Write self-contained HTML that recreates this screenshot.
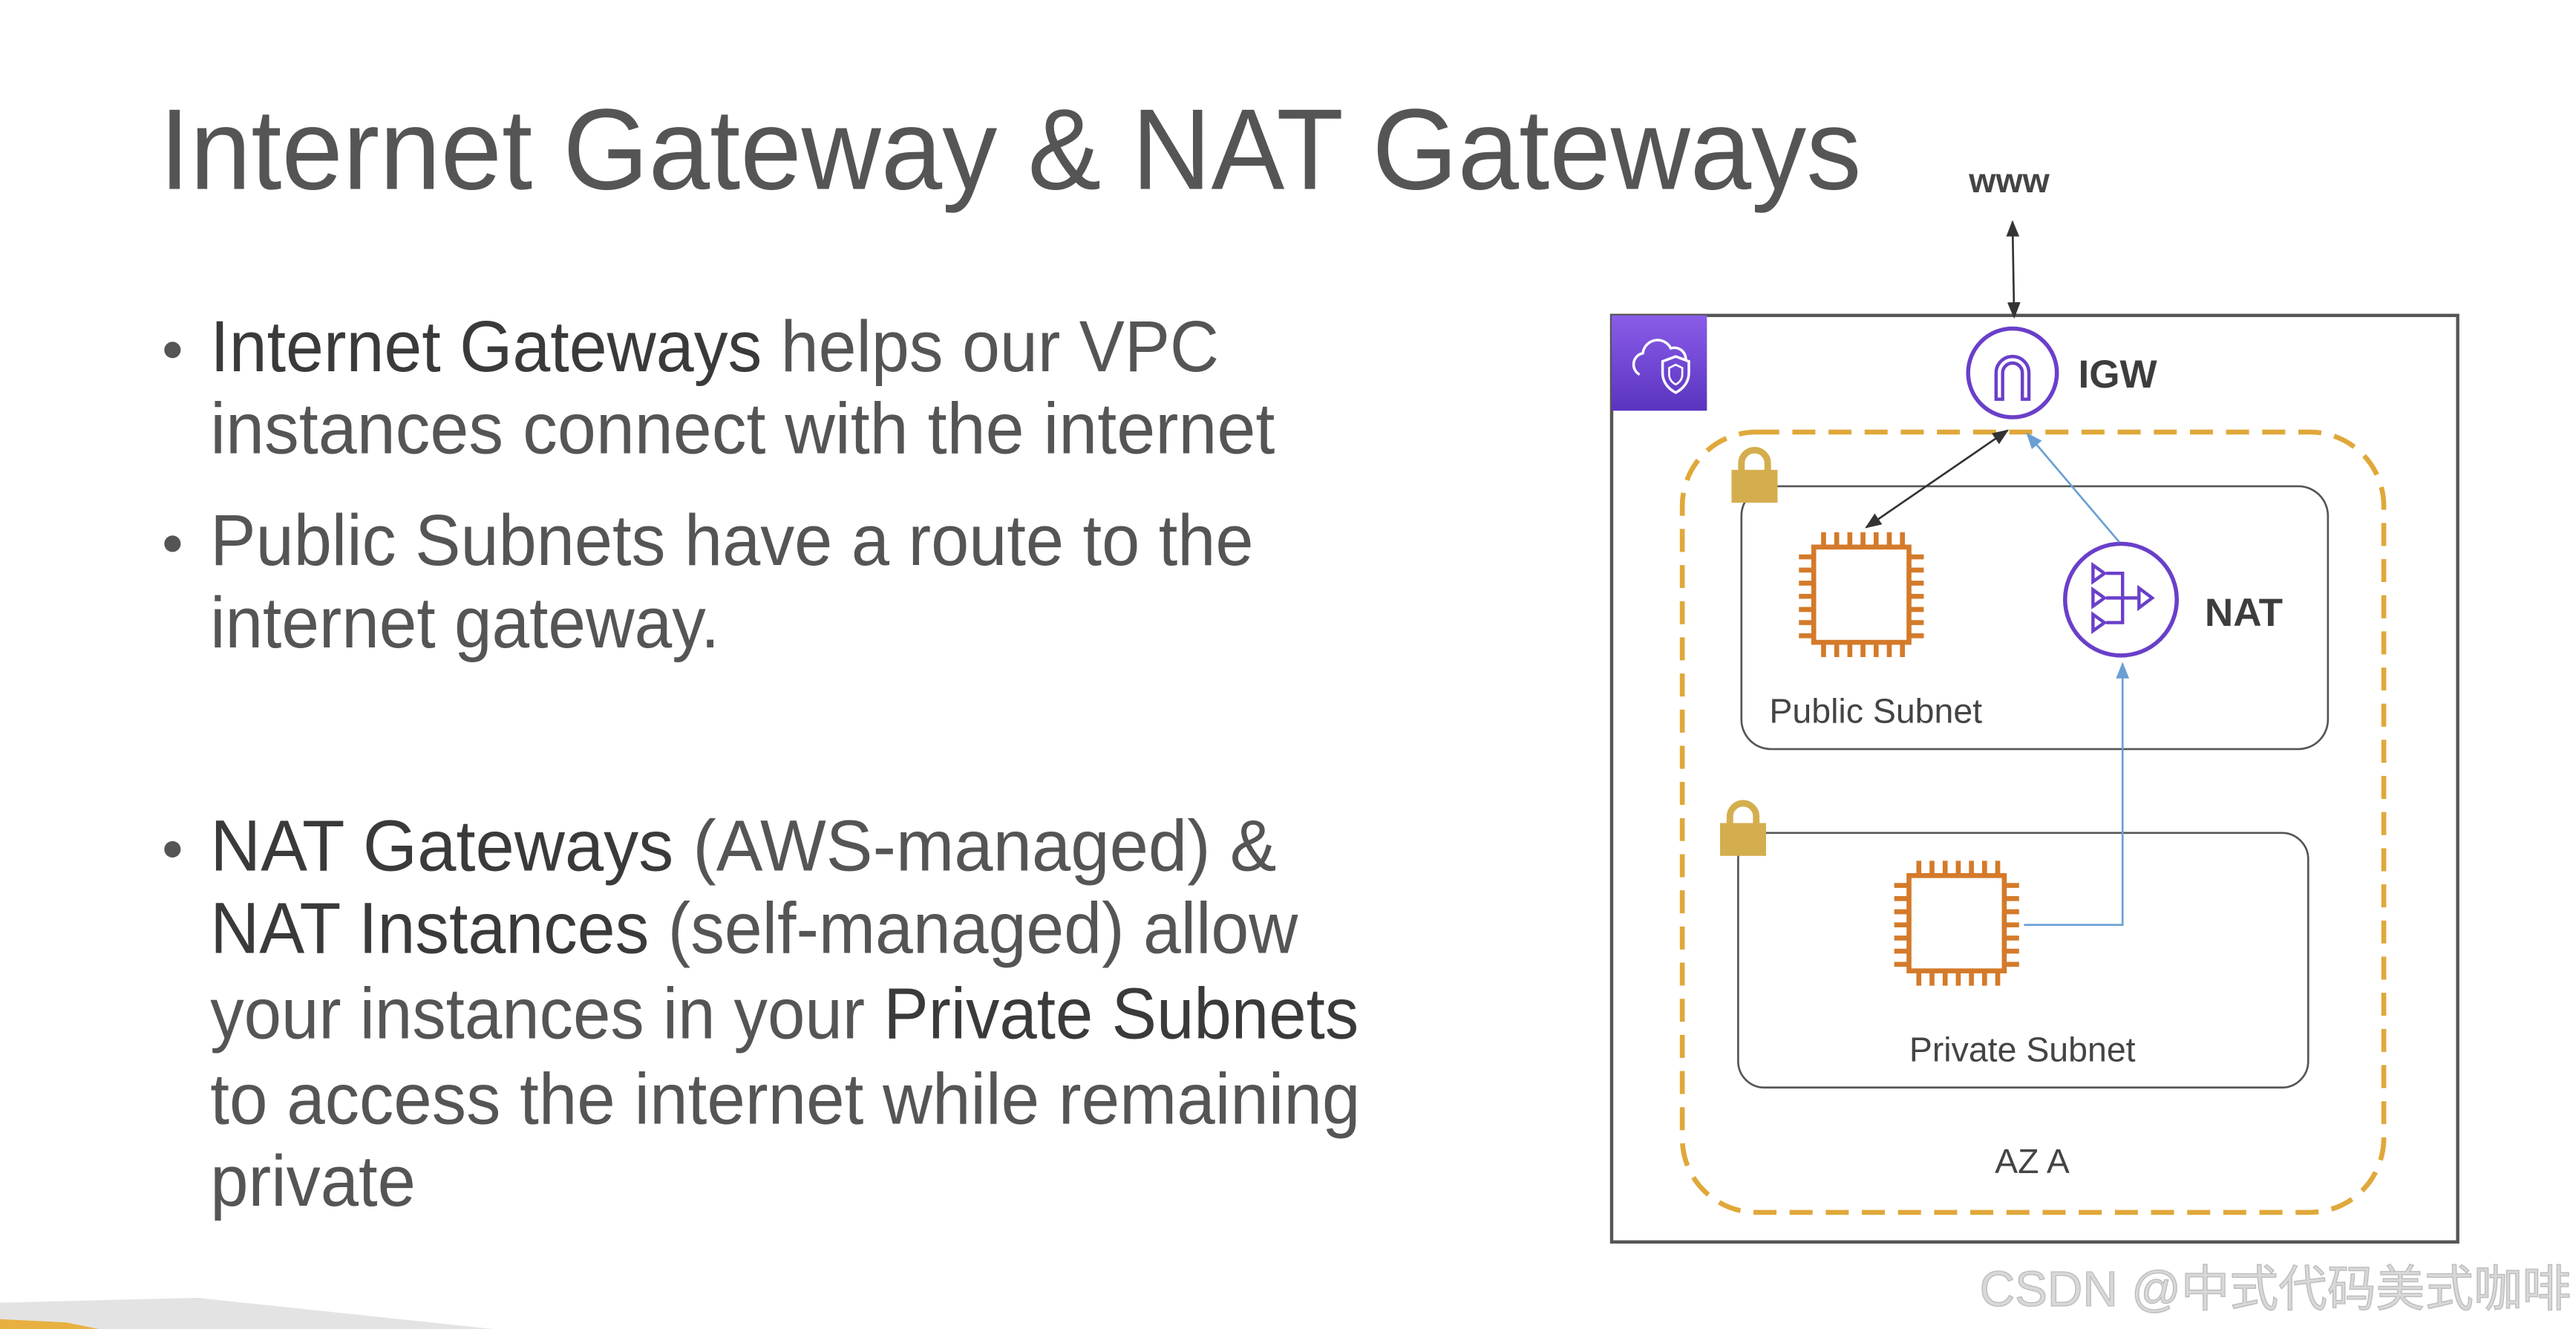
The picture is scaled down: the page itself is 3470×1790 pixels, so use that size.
<!DOCTYPE html>
<html><head><meta charset="utf-8"><style>
html,body{margin:0;padding:0;background:#fff;}
svg{display:block;}
</style></head><body>
<svg width="3470" height="1790" viewBox="0 0 1568 809" preserveAspectRatio="none" xmlns="http://www.w3.org/2000/svg">
<defs>
<marker id="ak" markerWidth="10" markerHeight="10" refX="9" refY="5" orient="auto-start-reverse" markerUnits="userSpaceOnUse"><path d="M0,1 L10,5 L0,9 z" fill="#333"/></marker>
<marker id="ab" markerWidth="10" markerHeight="10" refX="9" refY="5" orient="auto-start-reverse" markerUnits="userSpaceOnUse"><path d="M0,1 L10,5 L0,9 z" fill="#6a9fd4"/></marker>
<linearGradient id="pg" x1="0" y1="0" x2="0" y2="1"><stop offset="0" stop-color="#8a5ce8"/><stop offset="1" stop-color="#5a34c0"/></linearGradient>
</defs>
<g font-family="Liberation Sans, sans-serif" fill="#555">
<text x="97" y="115" font-size="70" textLength="1036" lengthAdjust="spacingAndGlyphs">Internet Gateway &amp; NAT Gateways</text>
<g font-size="44">
<circle cx="105" cy="213" r="5" fill="#555"/>
<circle cx="105" cy="331" r="5" fill="#555"/>
<circle cx="105" cy="517" r="5" fill="#555"/>
<text x="128" y="226" textLength="614" lengthAdjust="spacingAndGlyphs"><tspan fill="#3a3a3a">Internet Gateways</tspan> helps our VPC</text>
<text x="128" y="276" textLength="648" lengthAdjust="spacingAndGlyphs">instances connect with the internet</text>
<text x="128" y="344" textLength="635" lengthAdjust="spacingAndGlyphs">Public Subnets have a route to the</text>
<text x="128" y="394" textLength="310" lengthAdjust="spacingAndGlyphs">internet gateway.</text>
<text x="128" y="530" textLength="649" lengthAdjust="spacingAndGlyphs"><tspan fill="#3a3a3a">NAT Gateways</tspan> (AWS-managed) &amp;</text>
<text x="128" y="580" textLength="662" lengthAdjust="spacingAndGlyphs"><tspan fill="#3a3a3a">NAT Instances</tspan> (self-managed) allow</text>
<text x="128" y="632" textLength="699" lengthAdjust="spacingAndGlyphs">your instances in your <tspan fill="#3a3a3a">Private Subnets</tspan></text>
<text x="128" y="684" textLength="700" lengthAdjust="spacingAndGlyphs">to access the internet while remaining</text>
<text x="128" y="734" textLength="125" lengthAdjust="spacingAndGlyphs">private</text>
</g>
</g>
<!-- diagram -->
<rect x="981" y="192" width="515" height="564" fill="none" stroke="#555" stroke-width="2"/>
<rect x="981" y="192" width="58" height="58" fill="url(#pg)"/>
<path d="M998,228 a7,7 0 0 1 2,-13 a9,9 0 0 1 17,-3 a7,7 0 0 1 9,8" fill="none" stroke="#fff" stroke-width="1.6"/>
<path d="M1020,217 l8,3 v7 c0,6 -4,10 -8,12 c-4,-2 -8,-6 -8,-12 v-7 z" fill="none" stroke="#fff" stroke-width="1.6"/>
<path d="M1020,222 l4,2 v4 c0,3 -2,5 -4,6 c-2,-1 -4,-3 -4,-6 v-4 z" fill="none" stroke="#fff" stroke-width="1.2"/>
<text x="1223" y="117" font-family="Liberation Sans, sans-serif" font-weight="bold" font-size="21" fill="#444" text-anchor="middle">www</text>
<line x1="1225" y1="135" x2="1226" y2="193" stroke="#333" stroke-width="1.2" marker-start="url(#ak)" marker-end="url(#ak)"/>
<circle cx="1225" cy="227" r="27" fill="#fff" stroke="#6a3fc9" stroke-width="2.5"/>
<path d="M1215,243 v-16 a10,10 0 0 1 20,0 v16 h-4 v-16 a6,6 0 0 0 -12,0 v16 z" fill="none" stroke="#6a3fc9" stroke-width="2"/>
<text x="1265" y="236" font-family="Liberation Sans, sans-serif" font-weight="bold" font-size="24" fill="#3d3d3d">IGW</text>
<rect x="1024" y="263" width="427" height="475" rx="45" fill="none" stroke="#e0a83a" stroke-width="3" stroke-dasharray="14 8"/>
<!-- public subnet -->
<rect x="1060" y="296" width="357" height="160" rx="18" fill="none" stroke="#555" stroke-width="1.2"/>
<rect x="1054" y="286" width="28" height="20" fill="#d4ae4e"/>
<path d="M1060,287 v-5 a8,8 0 0 1 16,0 v5" fill="none" stroke="#d4ae4e" stroke-width="4"/>
<g stroke="#d47a2a" stroke-width="3" fill="none">
<rect x="1104" y="333" width="58" height="58"/>
<path d="M1110,333v-9M1118,333v-9M1126,333v-9M1134,333v-9M1142,333v-9M1150,333v-9M1158,333v-9 M1110,391v9M1118,391v9M1126,391v9M1134,391v9M1142,391v9M1150,391v9M1158,391v9 M1104,339h-9M1104,347h-9M1104,355h-9M1104,363h-9M1104,371h-9M1104,379h-9M1104,387h-9 M1162,339h9M1162,347h9M1162,355h9M1162,363h9M1162,371h9M1162,379h9M1162,387h9"/>
</g>
<circle cx="1291" cy="365" r="34" fill="#fff" stroke="#6a3fc9" stroke-width="2.5"/>
<g stroke="#6a3fc9" stroke-width="2" fill="none">
<path d="M1274,344 l7,5 l-7,5 z M1274,359 l7,5 l-7,5 z M1274,374 l7,5 l-7,5 z"/>
<path d="M1282,349 h10 v30 h-10 M1282,364 h20 M1292,364 h10"/>
<path d="M1302,358 l8,6 l-8,6 z"/>
</g>
<text x="1342" y="381" font-family="Liberation Sans, sans-serif" font-weight="bold" font-size="24" fill="#3d3d3d">NAT</text>
<text x="1077" y="440" font-family="Liberation Sans, sans-serif" font-size="21" fill="#444">Public Subnet</text>
<!-- private subnet -->
<rect x="1058" y="507" width="347" height="155" rx="16" fill="none" stroke="#555" stroke-width="1.2"/>
<rect x="1047" y="501" width="28" height="20" fill="#d4ae4e"/>
<path d="M1053,502 v-5 a8,8 0 0 1 16,0 v5" fill="none" stroke="#d4ae4e" stroke-width="4"/>
<g stroke="#d47a2a" stroke-width="3" fill="none">
<rect x="1162" y="533" width="58" height="58"/>
<path d="M1168,533v-9M1176,533v-9M1184,533v-9M1192,533v-9M1200,533v-9M1208,533v-9M1216,533v-9 M1168,591v9M1176,591v9M1184,591v9M1192,591v9M1200,591v9M1208,591v9M1216,591v9 M1162,539h-9M1162,547h-9M1162,555h-9M1162,563h-9M1162,571h-9M1162,579h-9M1162,587h-9 M1220,539h9M1220,547h9M1220,555h9M1220,563h9M1220,571h9M1220,579h9M1220,587h9"/>
</g>
<text x="1231" y="646" font-family="Liberation Sans, sans-serif" font-size="21" fill="#444" text-anchor="middle">Private Subnet</text>
<text x="1237" y="714" font-family="Liberation Sans, sans-serif" font-size="21" fill="#444" text-anchor="middle">AZ A</text>
<!-- arrows -->
<line x1="1136" y1="321" x2="1222" y2="262" stroke="#333" stroke-width="1.2" marker-start="url(#ak)" marker-end="url(#ak)"/>
<line x1="1290" y1="330" x2="1234" y2="264" stroke="#6a9fd4" stroke-width="1.2" marker-end="url(#ab)"/>
<polyline points="1232,563 1292,563 1292,404" fill="none" stroke="#6a9fd4" stroke-width="1.2" marker-end="url(#ab)"/>
<!-- footer -->
<polygon points="0,793 120,790 300,809 0,809" fill="#e3e3e3"/>
<polygon points="0,803 40,805 60,809 0,809" fill="#e8b040"/>
<text x="1205" y="795" font-family="Liberation Sans, Noto Sans CJK SC, sans-serif" font-size="30" fill="#d8d8d8" stroke="#bbb" stroke-width="0.6" textLength="360" lengthAdjust="spacingAndGlyphs">CSDN @中式代码美式咖啡</text>
</svg>
</body></html>
